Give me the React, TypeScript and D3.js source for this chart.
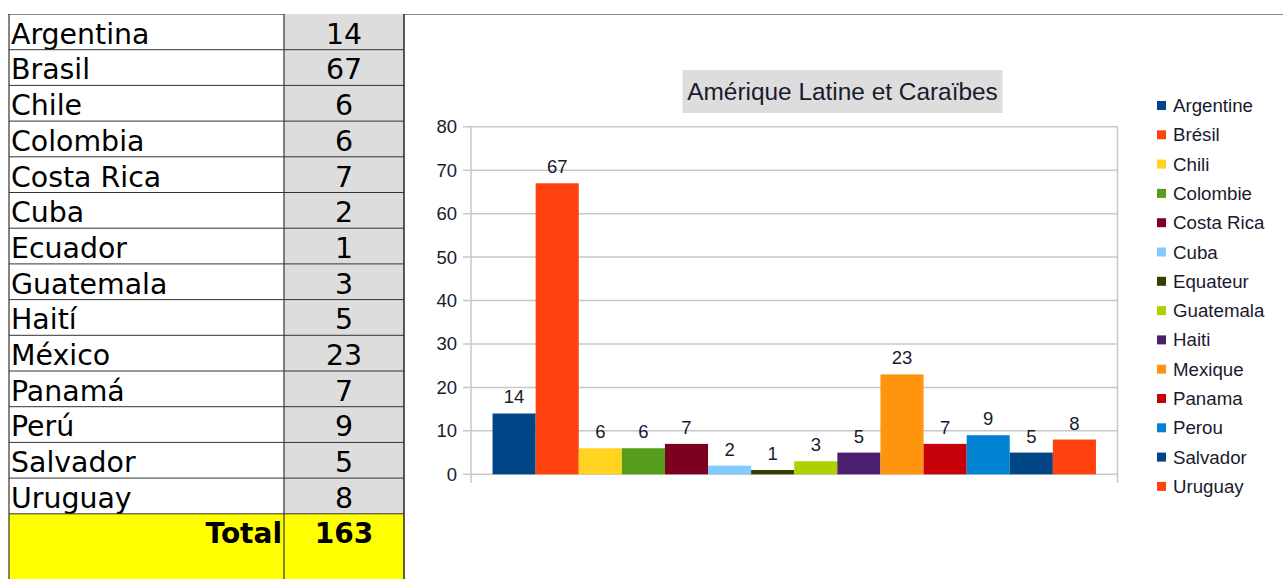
import React from "react";
import * as d3 from "d3";

const tableCountries = ["Argentina","Brasil","Chile","Colombia","Costa Rica","Cuba","Ecuador","Guatemala","Haití","México","Panamá","Perú","Salvador","Uruguay"];
const values = [14, 67, 6, 6, 7, 2, 1, 3, 5, 23, 7, 9, 5, 8];
const seriesNames = ["Argentine","Brésil","Chili","Colombie","Costa Rica","Cuba","Equateur","Guatemala","Haiti","Mexique","Panama","Perou","Salvador","Uruguay"];
const colors = ["#004586","#ff420e","#ffd320","#579d1c","#7e0021","#83caff","#314004","#aecf00","#4b1f6f","#ff950e","#c5000b","#0084d1","#004586","#ff420e"];
const yTicks = [0, 10, 20, 30, 40, 50, 60, 70, 80];
const title = "Amérique Latine et Caraïbes";
const totalLabel = "Total";

const W = 1283;
const H = 579;

export default function App() {
  const tX0 = 9, tX1 = 284, tX2 = 404;
  const tY0 = 14;
  const rowH = 35.7;
  const total = d3.sum(values);
  const rowY = (i: number) => tY0 + i * rowH;

  const px0 = 471, px1 = 1117.5;
  const y = d3.scaleLinear().domain([0, 80]).range([474.3, 126.8]);
  const x = d3.scaleBand<string>().domain(seriesNames).range([px0, px1]).paddingInner(0).paddingOuter(0.5);
  const chartFont = "'Liberation Sans', Arial, sans-serif";
  const tableFont = "'DejaVu Sans', Verdana, sans-serif";

  return (
    <svg width={W} height={H} style={{ position: "absolute", left: 0, top: 0, display: "block" }}>
      <rect x={0} y={0} width={W} height={H} fill="#ffffff" />
      <line x1={8} x2={W} y1={14.5} y2={14.5} stroke="#888" strokeWidth={1.2} />

      <rect x={tX1} y={rowY(0)} width={tX2 - tX1} height={rowH * tableCountries.length} fill="#dddddd" />
      <rect x={tX0} y={rowY(tableCountries.length)} width={tX2 - tX0} height={H - rowY(tableCountries.length)} fill="#ffff00" />
      {tableCountries.map((c, i) => (
        <g key={c}>
          <text x={tX0 + 2} y={rowY(i) + rowH - 6} fontFamily={tableFont} fontSize={28.4} fill="#000">{c}</text>
          <text x={(tX1 + tX2) / 2} y={rowY(i) + rowH - 6} fontFamily={tableFont} fontSize={28.4} fill="#000" textAnchor="middle">{values[i]}</text>
        </g>
      ))}
      <text x={tX1 - 2} y={rowY(tableCountries.length) + 29} fontFamily={tableFont} fontSize={28} fontWeight="bold" textAnchor="end" fill="#000">{totalLabel}</text>
      <text x={(tX1 + tX2) / 2} y={rowY(tableCountries.length) + 29} fontFamily={tableFont} fontSize={28} fontWeight="bold" textAnchor="middle" fill="#000">{total}</text>
      {d3.range(1, tableCountries.length + 1).map((i) => (
        <line key={"h" + i} x1={tX0} x2={tX2} y1={rowY(i)} y2={rowY(i)} stroke="#333" strokeWidth={1} />
      ))}
      <line x1={tX0} x2={tX0} y1={tY0} y2={H} stroke="#333" strokeWidth={1.2} />
      <line x1={tX1} x2={tX1} y1={tY0} y2={H} stroke="#333" strokeWidth={1.2} />
      <line x1={tX2} x2={tX2} y1={tY0} y2={H} stroke="#333" strokeWidth={1.6} />

      <rect x={682.5} y={70} width={320} height={43} fill="#dddddd" />
      <text x={842.5} y={99.5} fontFamily={chartFont} fontSize={24.4} textAnchor="middle" fill="#1a1a2e">{title}</text>

      {yTicks.map((t) => (
        <g key={t}>
          <line x1={463} x2={px1} y1={y(t)} y2={y(t)} stroke="#c8c8c8" strokeWidth={1.5} />
          <text x={457} y={y(t) + 6.5} fontFamily={chartFont} fontSize={18.5} textAnchor="end" fill="#1a1a2e">{t}</text>
        </g>
      ))}
      <line x1={px0} x2={px0} y1={y(80)} y2={483} stroke="#c8c8c8" strokeWidth={1.5} />
      <line x1={px1} x2={px1} y1={y(80)} y2={483} stroke="#c8c8c8" strokeWidth={1.5} />

      {seriesNames.map((s, i) => (
        <g key={s}>
          <rect x={x(s)!} y={y(values[i])} width={x.bandwidth()} height={y(0) - y(values[i])} fill={colors[i]} />
          <text x={x(s)! + x.bandwidth() / 2} y={y(values[i]) - 10} fontFamily={chartFont} fontSize={18.5} textAnchor="middle" fill="#1a1a2e">{values[i]}</text>
        </g>
      ))}

      {seriesNames.map((s, i) => {
        const cy = 105.5 + i * 29.3;
        return (
          <g key={"l" + s}>
            <rect x={1157} y={cy - 4.5} width={9} height={9} fill={colors[i]} />
            <text x={1173} y={cy + 6.5} fontFamily={chartFont} fontSize={18.7} fill="#1a1a2e">{s}</text>
          </g>
        );
      })}
    </svg>
  );
}
